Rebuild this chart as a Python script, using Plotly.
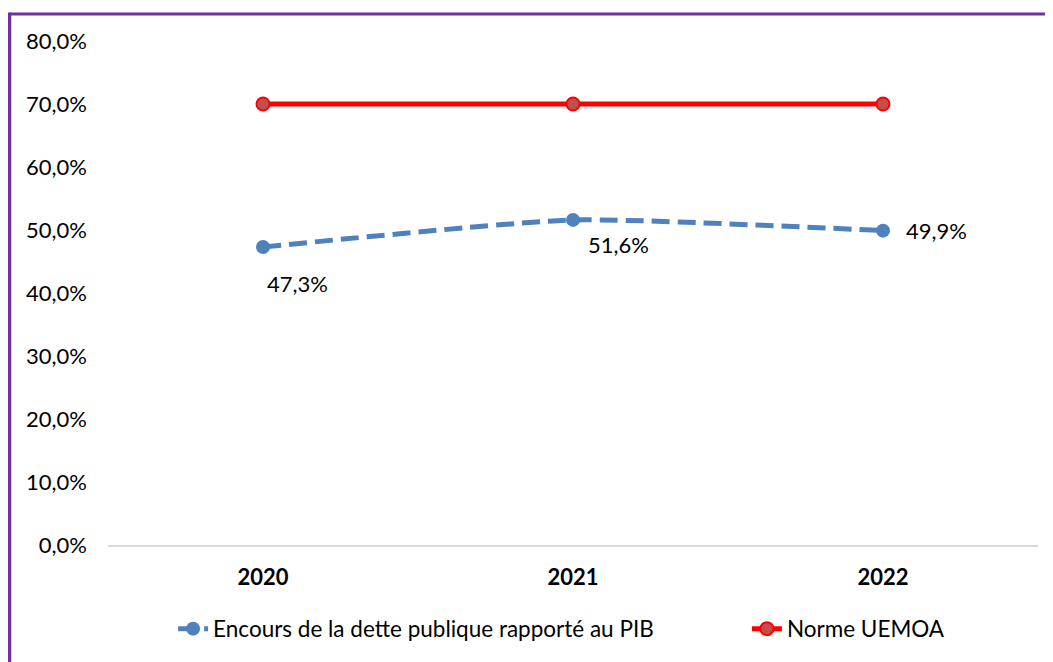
import plotly.graph_objects as go

years = ["2020", "2021", "2022"]
dette_pib = [47.3, 51.6, 49.9]
norme_uemoa = [70.0, 70.0, 70.0]
y_ticks = [0, 10, 20, 30, 40, 50, 60, 70, 80]
label_offsets = [(34, 36), (45, 25), (53, 0)]

FONT = "Lato, 'Open Sans', sans-serif"

def fmt(v):
    return f"{v:.1f}".replace(".", ",") + "%"

fig = go.Figure()
fig.add_trace(go.Scatter(
    x=years, y=dette_pib, mode="lines+markers",
    name="Encours de la dette publique rapporté au PIB",
    line=dict(color="#4F81BD", width=5, dash="18px,8px", shape="spline", smoothing=0.5),
    marker=dict(symbol="circle", size=14, color="#4F81BD"),
    legend="legend",
))
fig.add_trace(go.Scatter(
    x=years, y=norme_uemoa, mode="lines+markers",
    name="Norme UEMOA",
    line=dict(color="#FF0000", width=5),
    marker=dict(symbol="circle", size=13, color="#C0504D", line=dict(color="#FF0000", width=2)),
    legend="legend2",
))

annotations = []
for i, (v, (dx, dy)) in enumerate(zip(dette_pib, label_offsets)):
    annotations.append(dict(x=i, y=v, xref="x", yref="y", text=fmt(v), showarrow=False,
                            xshift=dx, yshift=-dy,
                            font=dict(family=FONT, size=22, color="#000000")))

purple = "#7030A0"
shapes = [
    dict(type="line", xref="paper", yref="paper", x0=-0.1059, x1=1.03, y0=1.0536, y1=1.0536,
         line=dict(color=purple, width=3)),
    dict(type="line", xref="paper", yref="paper", x0=-0.1059, x1=-0.1059, y0=1.0565, y1=-0.26,
         line=dict(color=purple, width=3.5)),
]

legend_font = dict(family=FONT, size=22.5, color="#000000")
fig.update_layout(
    width=1053, height=662,
    margin=dict(l=100, r=23, t=33, b=125),
    paper_bgcolor="white", plot_bgcolor="white",
    font=dict(family=FONT, size=22, color="#000000"),
    annotations=annotations,
    shapes=shapes,
    showlegend=True,
    legend=dict(orientation="h", x=0.07, y=-0.1667, xanchor="left", yanchor="middle",
                font=legend_font, bgcolor="rgba(0,0,0,0)"),
    legend2=dict(orientation="h", x=0.687, y=-0.1667, xanchor="left", yanchor="middle",
                 font=legend_font, bgcolor="rgba(0,0,0,0)"),
    xaxis=dict(type="category", range=[-0.5, 2.5], showgrid=False, zeroline=False,
               showline=True, linecolor="#D9D9D9", linewidth=2, ticks="",
               tickfont=dict(family=FONT, size=22, color="#000000", weight="bold"),
               ticklabelstandoff=12),
    yaxis=dict(range=[0, 80], tickmode="array", tickvals=y_ticks,
               ticktext=[fmt(t) for t in y_ticks],
               showgrid=False, zeroline=False, showline=False, ticks="",
               tickfont=dict(family=FONT, size=22, color="#000000"),
               ticklabelstandoff=20),
)

fig.write_html("out.html")
